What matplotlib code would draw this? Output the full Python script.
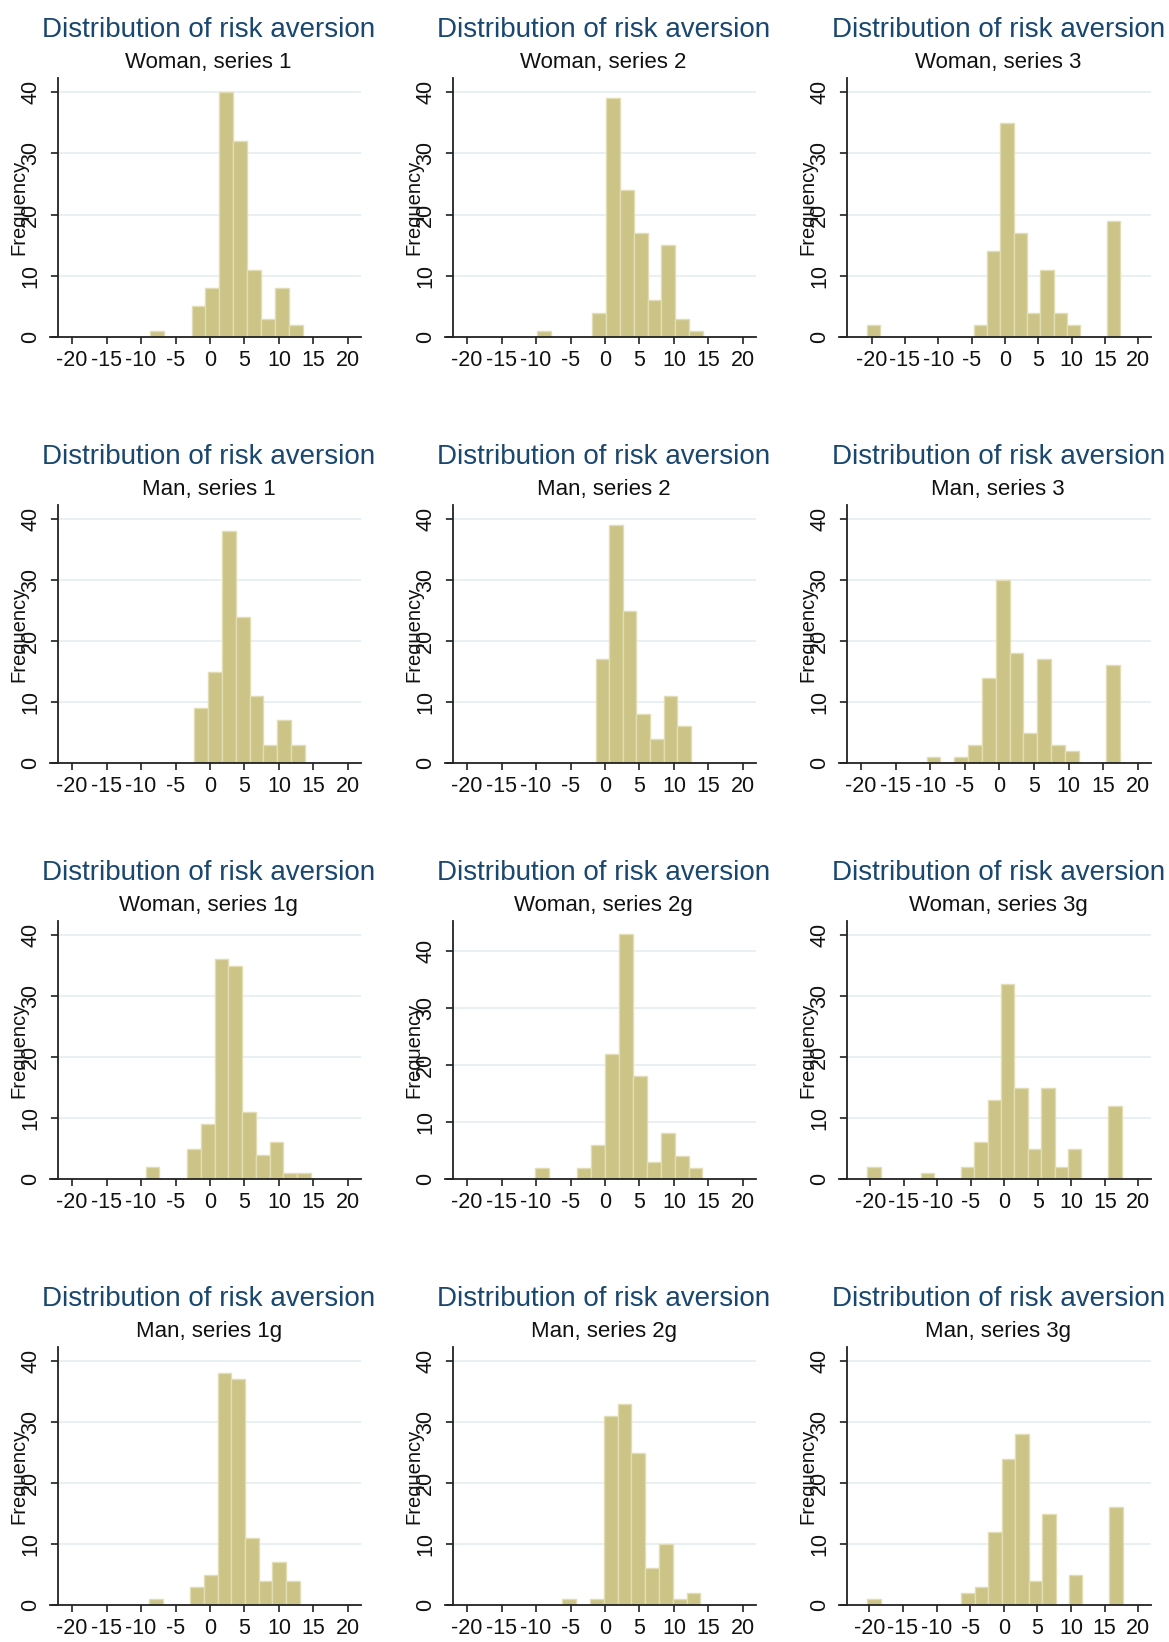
import matplotlib
matplotlib.use("Agg")
import matplotlib.pyplot as plt

# panel subtitles, row by row
subtitles = [
    "Woman, series 1", "Woman, series 2", "Woman, series 3",
    "Man, series 1", "Man, series 2", "Man, series 3",
    "Woman, series 1g", "Woman, series 2g", "Woman, series 3g",
    "Man, series 1g", "Man, series 2g", "Man, series 3g",
]

# lower edge of the first bin and bin width for each panel
bin_start = [-8.77, -9.9, -20.7,
             -2.26, -1.35, -10.55,
             -9.34, -10.1, -20.5,
             -8.85, -6.17, -20.3]
bin_width = [2.03, 2.01, 2.0,
             2.0, 1.97, 2.0,
             2.0, 2.02, 2.0,
             1.99, 2.0, 2.0]

# frequencies per bin
counts = [
    [1, 0, 0, 5, 8, 40, 32, 11, 3, 8, 2],
    [1, 0, 0, 0, 4, 39, 24, 17, 6, 15, 3, 1],
    [2, 0, 0, 0, 0, 0, 0, 0, 2, 14, 35, 17, 4, 11, 4, 2, 0, 0, 19],
    [9, 15, 38, 24, 11, 3, 7, 3],
    [17, 39, 25, 8, 4, 11, 6],
    [1, 0, 1, 3, 14, 30, 18, 5, 17, 3, 2, 0, 0, 16],
    [2, 0, 0, 5, 9, 36, 35, 11, 4, 6, 1, 1],
    [2, 0, 0, 2, 6, 22, 43, 18, 3, 8, 4, 2],
    [2, 0, 0, 0, 1, 0, 0, 2, 6, 13, 32, 15, 5, 15, 2, 5, 0, 0, 12],
    [1, 0, 0, 3, 5, 38, 37, 11, 4, 7, 4],
    [1, 0, 1, 31, 33, 25, 6, 10, 1, 2],
    [1, 0, 0, 0, 0, 0, 0, 2, 3, 12, 24, 28, 4, 15, 0, 5, 0, 0, 16],
]

x_ticks = [-20, -15, -10, -5, 0, 5, 10, 15, 20]
y_ticks = [0, 10, 20, 30, 40]

plt.rcParams['font.family'] = ['Liberation Sans', 'DejaVu Sans']

W, H = 1169, 1642
fig = plt.figure(figsize=(W / 100, H / 100), dpi=100)
fig.patch.set_facecolor('white')

# axes boxes in pixels: (top, bottom) per row, (left, right) per column
rows_px = [(78, 337), (505, 763), (921, 1179), (1347, 1605)]
cols_px = [(50, 361), (445, 756), (839, 1151)]

bar_color = '#cbc486'
edge_color = '#e2ddb3'
title_color = '#1a476f'

for i, sub in enumerate(subtitles):
    top, bot = rows_px[i // 3]
    left, right = cols_px[i % 3]
    ax = fig.add_axes([left / W, 1 - bot / H, (right - left) / W, (bot - top) / H])

    lo = bin_start[i]
    w = bin_width[i]
    c = counts[i]
    edges = [lo + k * w for k in range(len(c))]
    hi = lo + len(c) * w

    ax.bar(edges, c, width=w, align='edge', color=bar_color,
           edgecolor=edge_color, linewidth=1.0, zorder=2)

    ax.set_xlim(min(-20, lo - w / 2) - 3.2, max(20, hi + w / 2) + 1.9)
    ax.set_ylim(0, max(40, max(c)) + 2.3)

    ax.set_xticks(x_ticks)
    ax.set_xticklabels([str(t) for t in x_ticks])
    ax.set_yticks(y_ticks)
    ax.set_yticklabels([str(t) for t in y_ticks])

    for t in y_ticks[1:]:
        ax.axhline(t, color='#e4eef1', linewidth=1.2, zorder=1)

    for s in ['top', 'right']:
        ax.spines[s].set_visible(False)
    ax.spines['left'].set_position(('axes', 0.025))
    for s in ['left', 'bottom']:
        ax.spines[s].set_color('#222222')
        ax.spines[s].set_linewidth(1.3)

    ax.tick_params(axis='both', direction='out', length=5, width=1.2,
                   color='#222222', labelsize=15.5, labelcolor='#111111')
    ax.tick_params(axis='x', pad=4)
    ax.tick_params(axis='y', pad=7, labelrotation=90)
    for lab in ax.get_yticklabels():
        lab.set_verticalalignment('center')

    ax.set_ylabel('Frequency', fontsize=14.5, color='#111111')
    ax.yaxis.set_label_coords(-0.07, 0.5)

    ax.text(0.51, 1.185, 'Distribution of risk aversion', transform=ax.transAxes,
            ha='center', va='center', fontsize=20, color=title_color)
    ax.text(0.51, 1.06, sub, transform=ax.transAxes,
            ha='center', va='center', fontsize=16, color='#111111')

fig.savefig('out.png', dpi=100, facecolor='white')
